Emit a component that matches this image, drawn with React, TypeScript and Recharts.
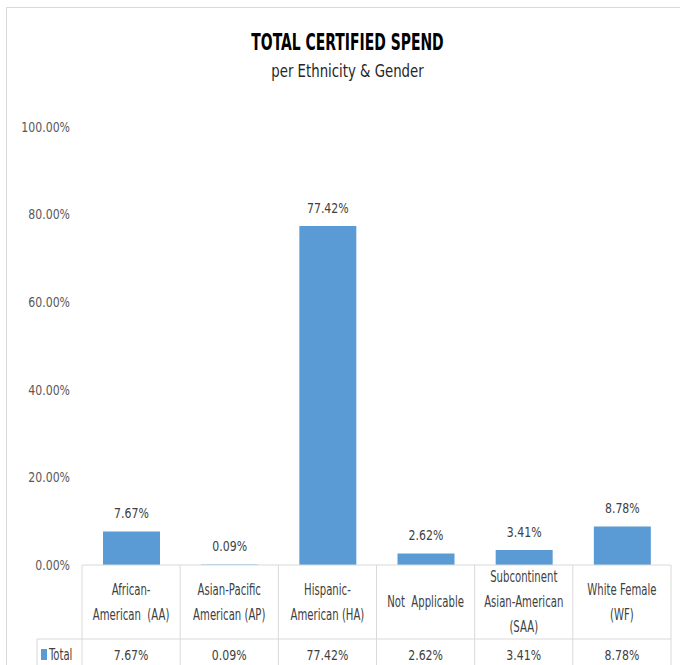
import React from 'react';
import { BarChart, Bar, XAxis, YAxis, LabelList } from 'recharts';

const categories = [
  'African-American (AA)',
  'Asian-Pacific American (AP)',
  'Hispanic-American (HA)',
  'Not Applicable',
  'Subcontinent Asian-American (SAA)',
  'White Female (WF)',
];
const tickLines = [
  ['African-', 'American  (AA)'],
  ['Asian-Pacific', 'American (AP)'],
  ['Hispanic-', 'American (HA)'],
  ['Not  Applicable'],
  ['Subcontinent', 'Asian-American', '(SAA)'],
  ['White Female', '(WF)'],
];
const totals = [7.67, 0.09, 77.42, 2.62, 3.41, 8.78];
const yTicks = [0, 20, 40, 60, 80, 100];
const seriesName = 'Total';
const title = 'TOTAL CERTIFIED SPEND';
const subtitle = 'per Ethnicity & Gender';

const data = categories.map((c, i) => ({ name: c, value: totals[i] }));

const FONT = '"DejaVu Sans Condensed", "DejaVu Sans", sans-serif';
const BLUE = '#5B9BD5';
const GRID = '#d9d9d9';
const TEXT = '#404040';
const W = 680;
const H = 665;
const M = { top: 127, right: 9, left: 0, bottom: 0 };
const YW = 82;
const XH = 100;
const BW = (W - M.left - M.right - YW) / categories.length;
const fmt = (v: number) => v.toFixed(2) + '%';

const SText = (p: any) => {
  const { x, y, sx = 1, size = 14, anchor = 'middle', weight = 'normal', fill = TEXT, baseline = 'central', children } = p;
  return (
    <text
      transform={`translate(${x},${y}) scale(${sx},1)`}
      textAnchor={anchor}
      dominantBaseline={baseline}
      fontFamily={FONT}
      fontSize={size}
      fontWeight={weight}
      fill={fill}
      style={{ whiteSpace: 'pre' }}
    >
      {children}
    </text>
  );
};

const NUM_SX = 0.84;
const NUM_SIZE = 14.5;
const WORD_SX = 0.75;
const WORD_SIZE = 15;

const CategoryTick = (props: any) => {
  const { x, y, payload, index } = props;
  const lines = tickLines[index] || [payload.value];
  const left = x - BW / 2;
  const right = x + BW / 2;
  const lh = 25;
  const rowH = 74;
  const startY = y + 37 - ((lines.length - 1) * lh) / 2;
  return (
    <g>
      <line x1={left} y1={y} x2={left} y2={y + XH} stroke={GRID} />
      {index === categories.length - 1 && (
        <line x1={right} y1={y} x2={right} y2={y + XH} stroke={GRID} />
      )}
      <line x1={index === 0 ? left - 45 : left} y1={y + rowH} x2={right} y2={y + rowH} stroke={GRID} />
      {lines.map((l: string, i: number) => (
        <SText key={i} x={x} y={startY + i * lh} sx={WORD_SX} size={WORD_SIZE}>
          {l}
        </SText>
      ))}
      <SText x={x} y={y + rowH + 16} sx={NUM_SX} size={NUM_SIZE}>
        {fmt(totals[index])}
      </SText>
      {index === 0 && (
        <g>
          <line x1={left - 45} y1={y + rowH} x2={left - 45} y2={y + XH} stroke={GRID} />
          <rect x={left - 41} y={y + rowH + 10} width={6} height={11} fill={BLUE} />
          <SText x={left - 33} y={y + rowH + 16} sx={WORD_SX} size={WORD_SIZE} anchor="start">
            {seriesName}
          </SText>
        </g>
      )}
    </g>
  );
};

const ValueTick = (props: any) => {
  const { x, y, payload } = props;
  return (
    <SText x={x} y={y} sx={NUM_SX} size={NUM_SIZE} anchor="end" fill="#595959">
      {fmt(payload.value)}
    </SText>
  );
};

const BarLabel = (props: any) => {
  const { x, y, width, value } = props;
  return (
    <SText x={Number(x) + Number(width) / 2} y={Number(y) - 18} sx={NUM_SX} size={NUM_SIZE}>
      {fmt(Number(value))}
    </SText>
  );
};

export default function App() {
  return (
    <div style={{ position: 'absolute', left: 0, top: 0, width: W, height: H, background: '#fff', overflow: 'hidden' }}>
      <svg width={W} height={H} style={{ position: 'absolute', left: 0, top: 0 }}>
        <rect x={6.5} y={7.5} width={W + 10} height={H + 10} fill="none" stroke={GRID} />
        <SText x={347.5} y={49.5} sx={0.66} size={23.5} weight="bold" fill="#000" baseline="alphabetic">
          {title}
        </SText>
        <SText x={347.5} y={77} sx={0.87} size={17} fill="#262626" baseline="alphabetic">
          {subtitle}
        </SText>
      </svg>
      <div style={{ position: 'absolute', left: 0, top: 0 }}>
        <BarChart width={W} height={H} data={data} margin={M}>
          <XAxis
            dataKey="name"
            height={XH}
            tickLine={false}
            tickSize={0}
            tickMargin={0}
            axisLine={{ stroke: GRID }}
            interval={0}
            tick={<CategoryTick />}
          />
          <YAxis
            width={YW}
            domain={[0, 100]}
            ticks={yTicks}
            axisLine={false}
            tickLine={false}
            tickSize={0}
            tickMargin={12}
            tick={<ValueTick />}
          />
          <Bar dataKey="value" fill={BLUE} barSize={57} isAnimationActive={false}>
            <LabelList dataKey="value" content={<BarLabel />} />
          </Bar>
        </BarChart>
      </div>
    </div>
  );
}
